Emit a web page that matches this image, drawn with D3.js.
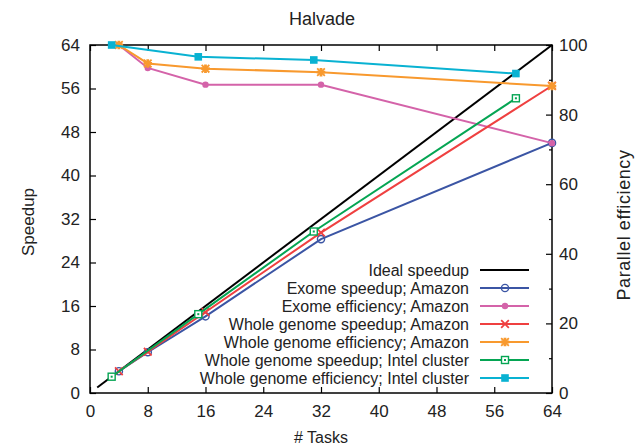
<!DOCTYPE html>
<html>
<head>
<meta charset="utf-8">
<script src="https://cdn.jsdelivr.net/npm/d3@7"></script>
<style>
  body { margin: 0; background: #fff; }
  text { font-family: "Liberation Sans", Arial, sans-serif; fill: #222; }
</style>
</head>
<body>
<div id="wrapper"></div>
<script>
// data
const idealTasks = [1, 64]
const amazonTasks = [4, 8, 16, 32, 64]
const intelTasks = [3, 15, 31, 59]

const exomeSpeedup = [4, 7.5, 14.1, 28.3, 46]
const exomeEfficiency = [100, 93.4, 88.6, 88.6, 71.8]
const genomeSpeedup = [4, 7.6, 14.9, 29.5, 56.5]
const genomeEfficiency = [100, 94.7, 93.2, 92.2, 88.2]
const intelSpeedup = [3, 14.5, 29.7, 54.2]
const intelEfficiency = [100, 96.6, 95.7, 91.8]

const xTicks = [0, 8, 16, 24, 32, 40, 48, 56, 64]
const yTicks = [0, 8, 16, 24, 32, 40, 48, 56, 64]
const y2Ticks = [0, 20, 40, 60, 80, 100]
const y2Minor = [10, 30, 50, 70, 90]

const series = [
  { name: "Ideal speedup", tasks: idealTasks, values: idealTasks, axis: "left", color: "#000000", marker: null },
  { name: "Exome speedup; Amazon", tasks: amazonTasks, values: exomeSpeedup, axis: "left", color: "#3b55a4", marker: "openCircle" },
  { name: "Exome efficiency; Amazon", tasks: amazonTasks, values: exomeEfficiency, axis: "right", color: "#d463a9", marker: "circle" },
  { name: "Whole genome speedup; Amazon", tasks: amazonTasks, values: genomeSpeedup, axis: "left", color: "#ef4040", marker: "times" },
  { name: "Whole genome efficiency; Amazon", tasks: amazonTasks, values: genomeEfficiency, axis: "right", color: "#f8992e", marker: "asterisk" },
  { name: "Whole genome speedup; Intel cluster", tasks: intelTasks, values: intelSpeedup, axis: "left", color: "#05a553", marker: "openSquare" },
  { name: "Whole genome efficiency; Intel cluster", tasks: intelTasks, values: intelEfficiency, axis: "right", color: "#09b2d2", marker: "square" }
]

const dimensions = {
  width: 642,
  height: 445,
  margin: { top: 45, right: 90, bottom: 52, left: 90 }
}
dimensions.boundedWidth = dimensions.width - dimensions.margin.left - dimensions.margin.right
dimensions.boundedHeight = dimensions.height - dimensions.margin.top - dimensions.margin.bottom

const wrapper = d3.select("#wrapper")
  .append("svg")
    .attr("width", dimensions.width)
    .attr("height", dimensions.height)

const bounds = wrapper.append("g")
    .attr("transform", `translate(${dimensions.margin.left},${dimensions.margin.top})`)

const xScale = d3.scaleLinear()
    .domain([0, 64])
    .range([0, dimensions.boundedWidth])

const yScale = d3.scaleLinear()
    .domain([0, 64])
    .range([dimensions.boundedHeight, 0])

const y2Scale = d3.scaleLinear()
    .domain([0, 100])
    .range([dimensions.boundedHeight, 0])

// axes, ticks pointing inward
const styleAxis = g => {
  g.select(".domain").remove()
  g.selectAll(".tick line").attr("stroke", "#000").attr("stroke-width", 1.2)
  g.selectAll(".tick text").style("font-size", "17px").attr("fill", "#222")
    .style("font-family", "'Liberation Sans', Arial, sans-serif")
}

bounds.append("g")
    .attr("transform", `translate(0,${dimensions.boundedHeight})`)
    .call(d3.axisBottom(xScale).tickValues(xTicks).tickSize(-6).tickPadding(12))
    .call(styleAxis)

bounds.append("g")
    .call(d3.axisTop(xScale).tickValues(xTicks).tickSize(-6).tickFormat(""))
    .call(styleAxis)

bounds.append("g")
    .call(d3.axisLeft(yScale).tickValues(yTicks).tickSize(-6).tickPadding(10))
    .call(styleAxis)

bounds.append("g")
    .attr("transform", `translate(${dimensions.boundedWidth},0)`)
    .call(d3.axisRight(y2Scale).tickValues(y2Ticks).tickSize(-6).tickPadding(7))
    .call(styleAxis)

bounds.append("g")
    .attr("transform", `translate(${dimensions.boundedWidth},0)`)
    .call(d3.axisRight(y2Scale).tickValues(y2Minor).tickSize(-3).tickFormat(""))
    .call(styleAxis)

bounds.append("rect")
    .attr("width", dimensions.boundedWidth)
    .attr("height", dimensions.boundedHeight)
    .attr("fill", "none")
    .attr("stroke", "#000")
    .attr("stroke-width", 1.5)

// markers
const drawMarker = (g, type, color) => {
  if (type === "openCircle") {
    g.append("circle").attr("r", 3.6).attr("fill", "none").attr("stroke", color).attr("stroke-width", 1.4)
  } else if (type === "circle") {
    g.append("circle").attr("r", 3.2).attr("fill", color)
  } else if (type === "times") {
    g.append("path").attr("d", d3.symbol(d3.symbolTimes, 40)()).attr("fill", "none").attr("stroke", color).attr("stroke-width", 1.8)
  } else if (type === "asterisk") {
    g.append("path").attr("d", d3.symbol(d3.symbolTimes, 40)()).attr("fill", "none").attr("stroke", color).attr("stroke-width", 1.8)
    g.append("path").attr("d", d3.symbol(d3.symbolCross, 40)()).attr("fill", color)
  } else if (type === "openSquare") {
    g.append("rect").attr("x", -3.5).attr("y", -3.5).attr("width", 7).attr("height", 7)
      .attr("fill", "white").attr("stroke", color).attr("stroke-width", 1.4)
    g.append("rect").attr("x", -1).attr("y", -1).attr("width", 2).attr("height", 2).attr("fill", color)
  } else if (type === "square") {
    g.append("rect").attr("x", -3.8).attr("y", -3.8).attr("width", 7.6).attr("height", 7.6).attr("fill", color)
  }
}

const plot = bounds.append("g")

series.forEach(s => {
  const scale = s.axis === "left" ? yScale : y2Scale
  const points = s.tasks.map((t, i) => ({ x: t, y: s.values[i] }))
  const lineGenerator = d3.line()
      .x(d => xScale(d.x))
      .y(d => scale(d.y))

  plot.append("path")
      .attr("d", lineGenerator(points))
      .attr("fill", "none")
      .attr("stroke", s.color)
      .attr("stroke-width", 2)

  if (s.marker) {
    points.forEach(p => {
      const g = plot.append("g").attr("transform", `translate(${xScale(p.x)},${scale(p.y)})`)
      drawMarker(g, s.marker, s.color)
    })
  }
})

// legend
const legend = bounds.append("g")
    .attr("transform", `translate(${379},${225})`)

series.forEach((s, i) => {
  const row = legend.append("g").attr("transform", `translate(0,${i * 18})`)
  row.append("text")
      .attr("x", 0)
      .attr("dy", "0.35em")
      .attr("text-anchor", "end")
      .style("font-size", "16px")
      .text(s.name)
  row.append("line")
      .attr("x1", 11).attr("x2", 60)
      .attr("stroke", s.color)
      .attr("stroke-width", 2)
  if (s.marker) {
    const g = row.append("g").attr("transform", "translate(36,0)")
    drawMarker(g, s.marker, s.color)
  }
})

// titles
wrapper.append("text")
    .attr("x", 322).attr("y", 19)
    .attr("dy", "0.35em")
    .attr("text-anchor", "middle")
    .style("font-size", "18px")
    .text("Halvade")

wrapper.append("text")
    .attr("x", 321).attr("y", 437)
    .attr("dy", "0.35em")
    .attr("text-anchor", "middle")
    .style("font-size", "16px")
    .text("# Tasks")

wrapper.append("text")
    .attr("transform", "translate(28,222) rotate(-90)")
    .attr("dy", "0.35em")
    .attr("text-anchor", "middle")
    .style("font-size", "17px")
    .text("Speedup")

wrapper.append("text")
    .attr("transform", "translate(624,225) rotate(-90)")
    .attr("dy", "0.35em")
    .attr("text-anchor", "middle")
    .style("font-size", "18px")
    .style("letter-spacing", "0.6px")
    .text("Parallel efficiency")
</script>
</body>
</html>
